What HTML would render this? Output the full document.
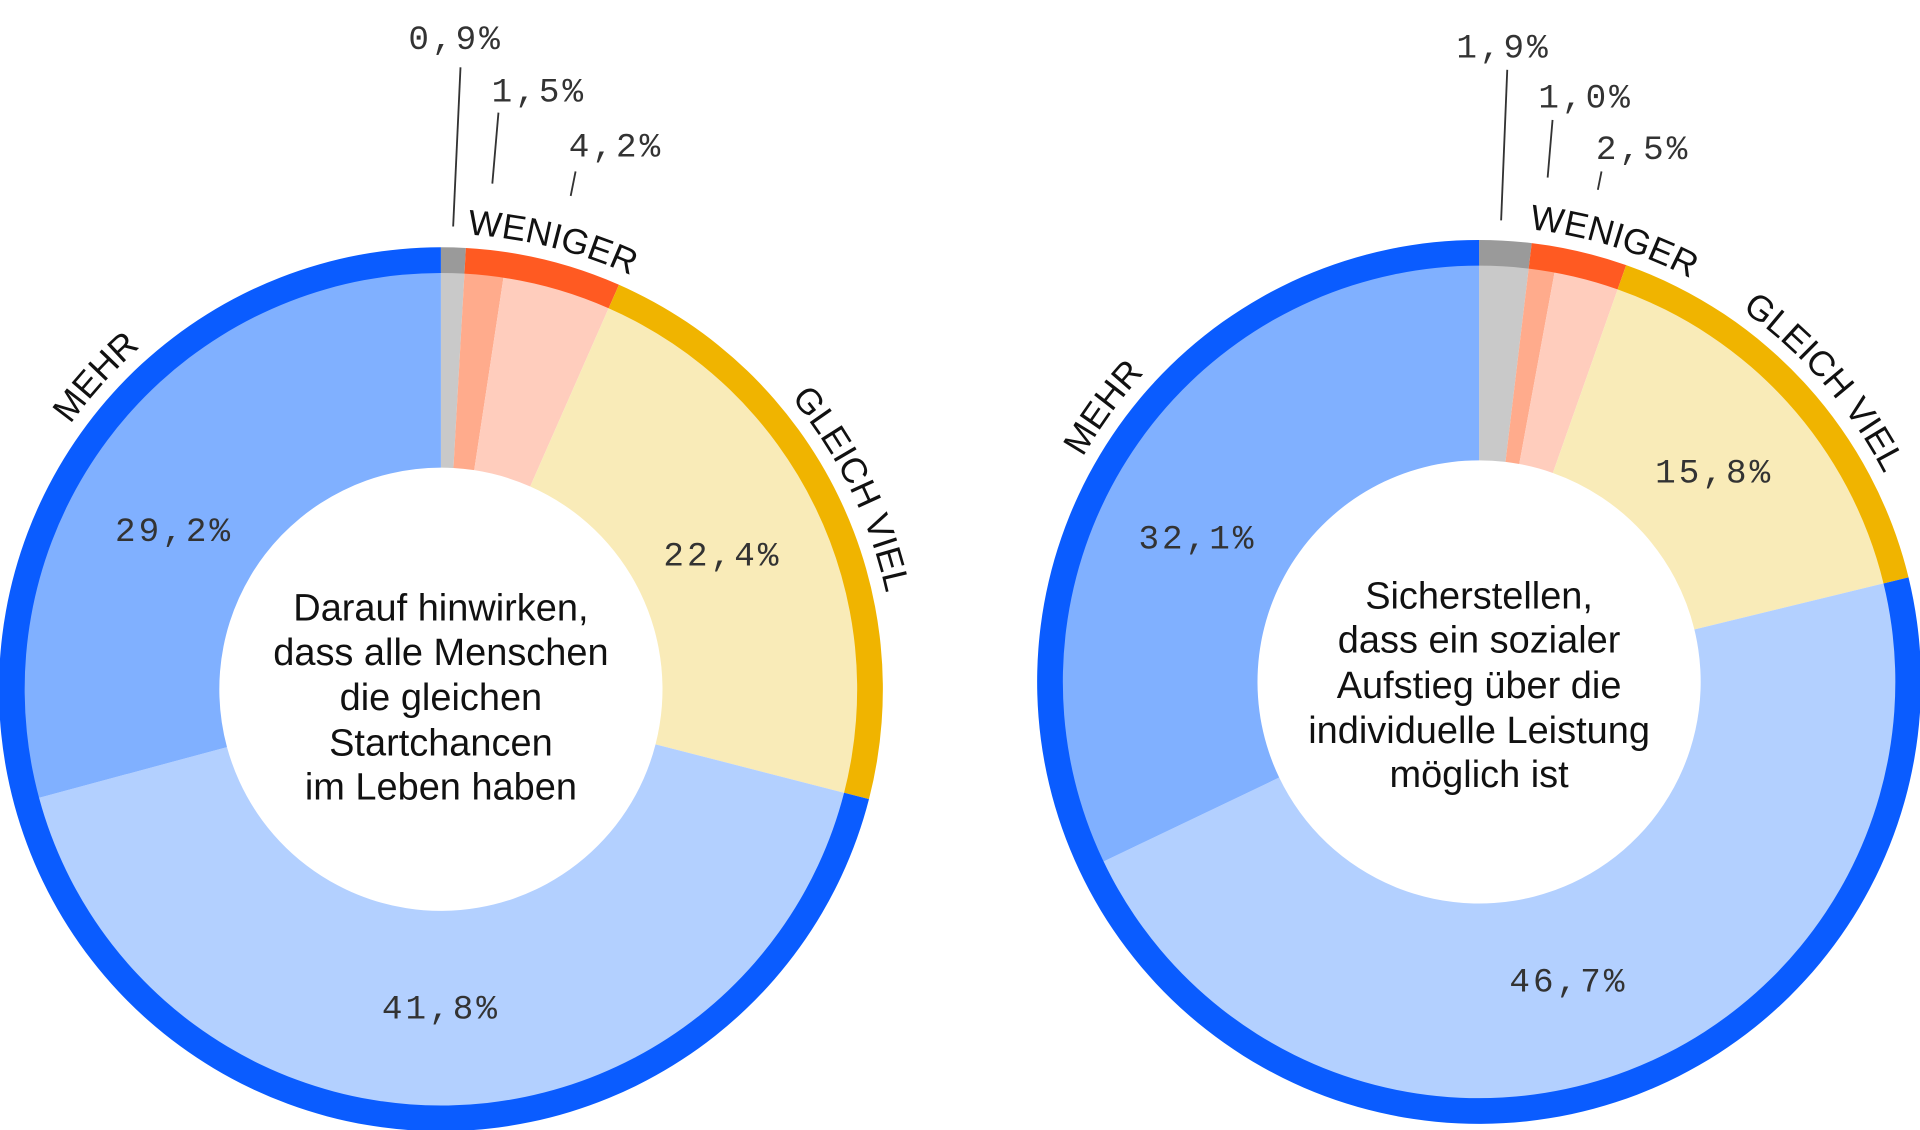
<!DOCTYPE html>
<html><head><meta charset="utf-8"><style>
html,body{margin:0;padding:0;background:#fff;}
svg{display:block;}
.pct{font-family:"Liberation Mono",monospace;font-size:28px;fill:#333;letter-spacing:2.5px;}
.ctr{font-family:"Liberation Sans",sans-serif;font-size:31px;fill:#111;text-anchor:middle;}
.arc{font-family:"Liberation Sans",sans-serif;font-size:29px;fill:#111;}
</style></head><body>
<svg id="s" width="1920" height="1130" viewBox="0 0 1568 923" xmlns="http://www.w3.org/2000/svg">
<g id="g"></g>
<text class="ctr" x="360" y="507">Darauf hinwirken,</text>
<text class="ctr" x="360" y="543">dass alle Menschen</text>
<text class="ctr" x="360" y="580">die gleichen</text>
<text class="ctr" x="360" y="617">Startchancen</text>
<text class="ctr" x="360" y="653">im Leben haben</text>
<text class="ctr" x="1208" y="497">Sicherstellen,</text>
<text class="ctr" x="1208" y="533">dass ein sozialer</text>
<text class="ctr" x="1208" y="570">Aufstieg über die</text>
<text class="ctr" x="1208" y="607">individuelle Leistung</text>
<text class="ctr" x="1208" y="643">möglich ist</text>
<g class="pct" text-anchor="middle">
<text x="142" y="442">29,2%</text><text x="590" y="462">22,4%</text><text x="360" y="832">41,8%</text>
<text x="978" y="448">32,1%</text><text x="1400" y="394">15,8%</text><text x="1281" y="810">46,7%</text>
<text x="372" y="40">0,9%</text><text x="440" y="83">1,5%</text><text x="503" y="128">4,2%</text>
<text x="1228" y="47">1,9%</text><text x="1295" y="88">1,0%</text><text x="1342" y="130">2,5%</text>
</g>
<g stroke="#333" stroke-width="1.5">
<line x1="376" y1="55" x2="370" y2="185"/><line x1="407" y1="92" x2="402" y2="150"/><line x1="470" y1="140" x2="466" y2="160"/>
<line x1="1231" y1="57" x2="1226" y2="180"/><line x1="1268" y1="98" x2="1264" y2="145"/><line x1="1308" y1="140" x2="1305" y2="155"/>
</g>
</svg>
<script>
const NS="http://www.w3.org/2000/svg",g=document.getElementById('g');
function pt(cx,cy,r,a){a=a*Math.PI/180;return [cx+r*Math.sin(a),cy-r*Math.cos(a)];}
function sector(cx,cy,r0,r1,a0,a1,fill){
 const l=(a1-a0)>180?1:0;const p1=pt(cx,cy,r1,a0),p2=pt(cx,cy,r1,a1),p3=pt(cx,cy,r0,a1),p4=pt(cx,cy,r0,a0);
 const p=document.createElementNS(NS,'path');
 p.setAttribute('d',`M${p1}A${r1},${r1} 0 ${l} 1 ${p2}L${p3}A${r0},${r0} 0 ${l} 0 ${p4}Z`);
 p.setAttribute('fill',fill);g.appendChild(p);}
function donut(cx,cy,vals,id,labels){
 const inner=['#c9c9c9','#ffab8c','#ffcdbd','#f9ebb8','#b3d0ff','#80b0ff'];
 let a=0;vals.forEach((v,i)=>{const b=a+v*3.6;sector(cx,cy,181,341,a,b,inner[i]);a=b;});
 const groups=[[vals[0],'#9a9a9a'],[vals[1]+vals[2],'#ff5a22'],[vals[3],'#f0b400'],[vals[4]+vals[5],'#0a5cff']];
 a=0;groups.forEach(([v,c])=>{const b=a+v*3.6;sector(cx,cy,340,361,a,b,c);a=b;});
 const R=372;const pth=document.createElementNS(NS,'path');
 pth.setAttribute('id',id);pth.setAttribute('fill','none');
 pth.setAttribute('d',`M${cx},${cy-R}A${R},${R} 0 1 1 ${cx},${cy+R}A${R},${R} 0 1 1 ${cx},${cy-R}`);g.appendChild(pth);
 const C=2*Math.PI*R;
 labels.forEach(([t,ang])=>{const tx=document.createElementNS(NS,'text');tx.setAttribute('class','arc');tx.setAttribute('text-anchor','middle');
  const tp=document.createElementNS(NS,'textPath');tp.setAttribute('href','#'+id);
  tp.setAttribute('startOffset',(((ang+360)%360)/360*C)+'');tp.textContent=t;tx.appendChild(tp);g.appendChild(tx);});
}
donut(360,563,[0.9,1.5,4.2,22.4,41.8,29.2],'c1',[['MEHR',-48],['WENIGER',14],['GLEICH VIEL',64]]);
donut(1208,557,[1.9,1.0,2.5,15.8,46.7,32.1],'c2',[['MEHR',-54],['WENIGER',17],['GLEICH VIEL',49]]);
</script>
</body></html>
